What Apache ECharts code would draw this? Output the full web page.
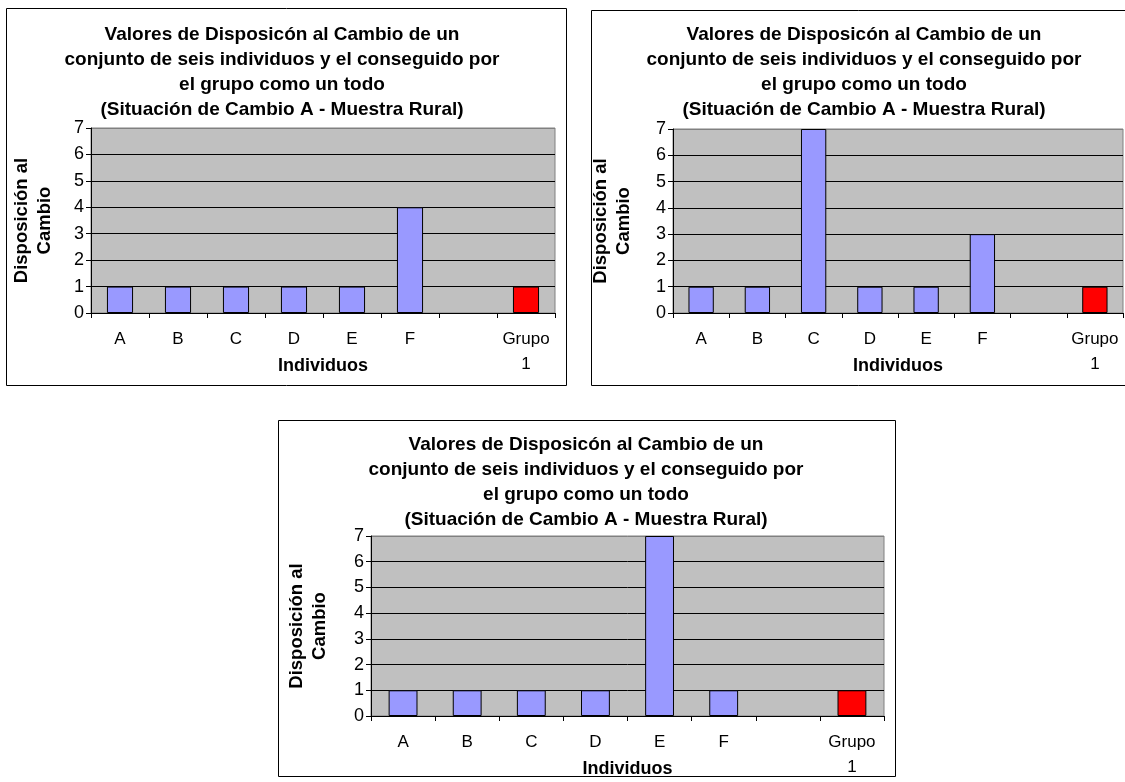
<!DOCTYPE html>
<html><head><meta charset="utf-8">
<script src="https://cdn.jsdelivr.net/npm/echarts@6/dist/echarts.min.js"></script>
<style>html,body{margin:0;padding:0;background:#fff}#c{width:1125px;height:782px}</style>
</head><body><div id="c"></div>
<script>
const categories = ['A','B','C','D','E','F','','Grupo\n1'];
const values1 = [1,1,1,1,1,4,null,1];
const values2 = [1,1,7,1,1,3,null,1];
const values3 = [1,1,1,1,7,1,null,1];
const yTicks = [0,1,2,3,4,5,6,7];
const titleText = 'Valores de Disposicón al Cambio de un\nconjunto de seis individuos y el conseguido por\nel grupo como un todo\n(Situación de Cambio A - Muestra Rural)';
const yName = 'Disposición al\nCambio';
const xName = 'Individuos';

const FONT = '"Liberation Sans", Arial, sans-serif';
const chart = echarts.init(document.getElementById('c'));

const panels = [
  {grid:{left:91, right:1125-555, top:128, bottom:782-313}, title:{left:282, top:22.5}, data:values1, box:[6,8,560,377], yGap:35},
  {grid:{left:673, right:2, top:129, bottom:782-313}, title:{left:864, top:22.5}, data:values2, box:[591,10,560,375], yGap:38},
  {grid:{left:371, right:1125-884, top:536, bottom:782-716}, title:{left:586, top:432}, data:values3, box:[278,420,617,356], yGap:40}
];

const splitColors = yTicks.map(v => v === 7 ? '#808080' : '#000');

const option = {
  animation:false,
  backgroundColor:'#fff',
  textStyle:{fontFamily:FONT},
  title: panels.map(p=>({
    text:titleText, left:p.title.left, top:p.title.top, textAlign:'center', padding:0,
    textStyle:{fontFamily:FONT, fontSize:19, fontWeight:'bold', color:'#000', lineHeight:25}
  })),
  grid: panels.map(p=>Object.assign({show:true, backgroundColor:'#C0C0C0', borderColor:'#808080', borderWidth:1, outerBoundsMode:'none', containLabel:false}, p.grid)),
  xAxis: panels.map((p,i)=>({
    type:'category', gridIndex:i, data:categories,
    axisLine:{lineStyle:{color:'#000', width:1}},
    axisTick:{show:true, length:5, lineStyle:{color:'#000'}},
    axisLabel:{color:'#000', fontSize:17, fontFamily:FONT, lineHeight:25, margin:14, interval:0},
    name:xName, nameLocation:'middle', nameGap:44, nameMoveOverlap:false,
    nameTextStyle:{fontFamily:FONT, fontSize:18, fontWeight:'bold', color:'#000', lineHeight:18}
  })),
  yAxis: panels.map((p,i)=>({
    type:'value', gridIndex:i, min:0, max:7, interval:1,
    axisLine:{show:true, lineStyle:{color:'#000'}},
    axisTick:{show:true, length:5, lineStyle:{color:'#000'}},
    axisLabel:{color:'#000', fontSize:18, fontFamily:FONT, margin:7, formatter:v=>yTicks.includes(v)?String(v):''},
    splitLine:{show:true, lineStyle:{color:splitColors, width:1}},
    name:yName, nameLocation:'middle', nameGap:p.yGap, nameRotate:90, nameMoveOverlap:false,
    nameTextStyle:{fontFamily:FONT, fontSize:18.5, fontWeight:'bold', color:'#000', lineHeight:23}
  })),
  series: panels.map((p,i)=>({
    type:'bar', xAxisIndex:i, yAxisIndex:i, data:p.data,
    barCategoryGap:'55%',
    itemStyle:{
      color:(pr)=> pr.dataIndex===categories.length-1 ? '#FF0000' : '#9999FF',
      borderColor:'#000', borderWidth:1
    }
  })),
  graphic: panels.map(p=>({
    type:'rect', shape:{x:p.box[0]+0.5, y:p.box[1]+0.5, width:p.box[2], height:p.box[3]},
    style:{fill:'none', stroke:'#000', lineWidth:1}, z:100
  }))
};
chart.setOption(option);
</script></body></html>
